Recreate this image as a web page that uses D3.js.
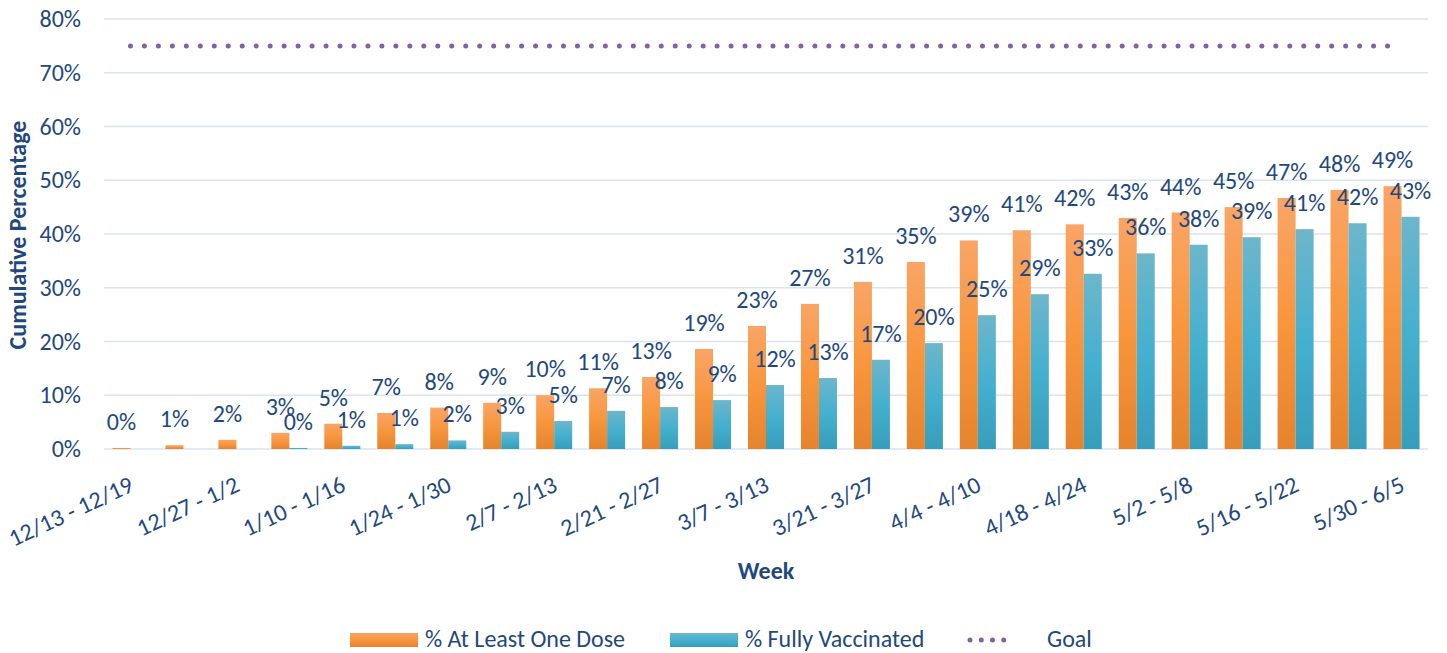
<!DOCTYPE html>
<html>
<head>
<meta charset="utf-8">
<script src="https://cdn.jsdelivr.net/npm/d3@7"></script>
<style>
    body { margin: 0; background: #fff; }
    text { font-family: Carlito, Calibri, Lato, sans-serif; fill: #1f497d; }
</style>
</head>
<body>
<div class="chart"></div>
<script>
// weeks on the x axis (only every other label is drawn)
const weeks = ["12/13 - 12/19", "12/20 - 12/26", "12/27 - 1/2", "1/3 - 1/9", "1/10 - 1/16",
    "1/17 - 1/23", "1/24 - 1/30", "1/31 - 2/6", "2/7 - 2/13", "2/14 - 2/20", "2/21 - 2/27",
    "2/28 - 3/6", "3/7 - 3/13", "3/14 - 3/20", "3/21 - 3/27", "3/28 - 4/3", "4/4 - 4/10",
    "4/11 - 4/17", "4/18 - 4/24", "4/25 - 5/1", "5/2 - 5/8", "5/9 - 5/15", "5/16 - 5/22",
    "5/23 - 5/29", "5/30 - 6/5"];
const oneDose = [0.2, 0.7, 1.7, 3.0, 4.7, 6.7, 7.7, 8.6, 10.0, 11.3, 13.4, 18.6, 22.9, 27.0,
    31.1, 34.8, 38.8, 40.7, 41.8, 43.0, 44.0, 45.0, 46.7, 48.2, 48.9];
const fullyVax = [null, null, null, 0.2, 0.6, 0.9, 1.6, 3.2, 5.2, 7.1, 7.8, 9.1, 11.9, 13.2,
    16.6, 19.7, 24.9, 28.8, 32.6, 36.4, 38.0, 39.4, 40.9, 42.0, 43.2];
const goal = 75;
const yTicks = [0, 10, 20, 30, 40, 50, 60, 70, 80];
const seriesNames = ["% At Least One Dose", "% Fully Vaccinated", "Goal"];

const margin = ({ top: 19, right: 19, bottom: 204, left: 104 })
const width = 1447 - margin.left - margin.right,
    height = 653 - margin.top - margin.bottom;

const svg = d3.select(".chart").append("svg")
    .attr("width", 1447)
    .attr("height", 653);

// bar gradients
const defs = svg.append("defs");
const grads = [
    { id: "gOrange", stops: ["#f9a566", "#f8963e", "#e5842d"] },
    { id: "gBlue", stops: ["#6db6cb", "#45b0cf", "#379dbb"] }
];
grads.forEach(g => {
    const lg = defs.append("linearGradient")
        .attr("id", g.id)
        .attr("x1", 0).attr("y1", 0).attr("x2", 0).attr("y2", 1);
    g.stops.forEach((c, i) => {
        lg.append("stop").attr("offset", (i * 50) + "%").attr("stop-color", c);
    });
});

const g = svg.append("g")
    .attr("transform", "translate(" + margin.left + "," + margin.top + ")");

// scales
const x0 = d3.scaleBand()
    .domain(weeks)
    .range([0, width])
    .paddingInner(0.32)
    .paddingOuter(0.16);
const x1 = d3.scaleBand()
    .domain([0, 1])
    .range([0, x0.bandwidth()]);
const yScale = d3.scaleLinear()
    .domain([0, 80])
    .range([height, 0]);

// gridlines
g.append("g")
    .selectAll("line")
    .data(yTicks)
    .enter()
    .append("line")
    .attr("x1", 0)
    .attr("x2", width)
    .attr("y1", d => yScale(d))
    .attr("y2", d => yScale(d))
    .style("stroke", "#d9e3f2")
    .style("stroke-width", 1.6);

// y axis labels
const yAxis = d3.axisLeft(yScale)
    .tickValues(yTicks)
    .tickFormat(d => d + "%")
    .tickSize(0)
    .tickPadding(23);
const yg = g.append("g").call(yAxis);
yg.select(".domain").remove();
yg.selectAll("text")
    .style("font-size", "24px")
    .attr("fill", "#1f497d");

// x axis labels (every other week)
const xAxis = d3.axisBottom(x0)
    .tickValues(weeks.filter((d, i) => i % 2 === 0))
    .tickSize(0);
const xg = g.append("g")
    .attr("transform", `translate(0, ${height})`)
    .call(xAxis);
xg.select(".domain").remove();
xg.selectAll("text")
    .style("font-size", "24px")
    .attr("fill", "#1f497d")
    .attr("text-anchor", "end")
    .attr("dy", "0.75em")
    .attr("y", 0)
    .attr("transform", "translate(-3, 25) rotate(-25)");

// bars
const series = [oneDose, fullyVax];
const fills = ["url(#gOrange)", "url(#gBlue)"];
series.forEach((vals, s) => {
    const pts = vals.map((v, i) => ({ week: weeks[i], v: v })).filter(d => d.v !== null);
    g.append("g")
        .selectAll("rect")
        .data(pts)
        .enter()
        .append("rect")
        .attr("x", d => x0(d.week) + x1(s))
        .attr("y", d => yScale(d.v))
        .attr("width", x1.bandwidth())
        .attr("height", d => yScale(0) - yScale(d.v))
        .style("fill", fills[s]);

    g.append("g")
        .selectAll("text")
        .data(pts)
        .enter()
        .append("text")
        .attr("x", d => x0(d.week) + x1(s) + x1.bandwidth() / 2)
        .attr("y", d => yScale(d.v) - 18)
        .attr("text-anchor", "middle")
        .style("font-size", "24px")
        .text(d => Math.round(d.v) + "%");
});

// goal line
const line = d3.line()
    .x(d => x0(d) + x0.bandwidth() / 2)
    .y(() => yScale(goal));
g.append("path")
    .datum(weeks)
    .attr("d", line)
    .style("fill", "none")
    .style("stroke", "#8064a2")
    .style("stroke-width", 5)
    .style("stroke-linecap", "round")
    .style("stroke-dasharray", "0," + ((x0.step() * 24) / 91));

// axis titles
svg.append("text")
    .attr("text-anchor", "middle")
    .attr("transform", "translate(26, 235) rotate(-90)")
    .style("font-size", "24px")
    .style("font-weight", "bold")
    .text("Cumulative Percentage");

svg.append("text")
    .attr("text-anchor", "middle")
    .attr("x", 766)
    .attr("y", 579)
    .style("font-size", "24px")
    .style("font-weight", "bold")
    .text("Week");

// legend
const legend = svg.append("g").attr("class", "legend");
const legX = [350, 670, 970];
const legText = [425, 745, 1047];
[0, 1].forEach(i => {
    legend.append("rect")
        .attr("x", legX[i])
        .attr("y", 633)
        .attr("width", 68)
        .attr("height", 14)
        .style("fill", fills[i]);
});
legend.append("line")
    .attr("x1", legX[2])
    .attr("x2", legX[2] + 45)
    .attr("y1", 640)
    .attr("y2", 640)
    .style("stroke", "#8064a2")
    .style("stroke-width", 5)
    .style("stroke-linecap", "round")
    .style("stroke-dasharray", "0,11.25");
legend.selectAll(".legend-label")
    .data(seriesNames)
    .enter()
    .append("text")
    .attr("class", "legend-label")
    .attr("x", (d, i) => legText[i])
    .attr("y", 647)
    .style("font-size", "24px")
    .text(d => d);
</script>
</body>
</html>
